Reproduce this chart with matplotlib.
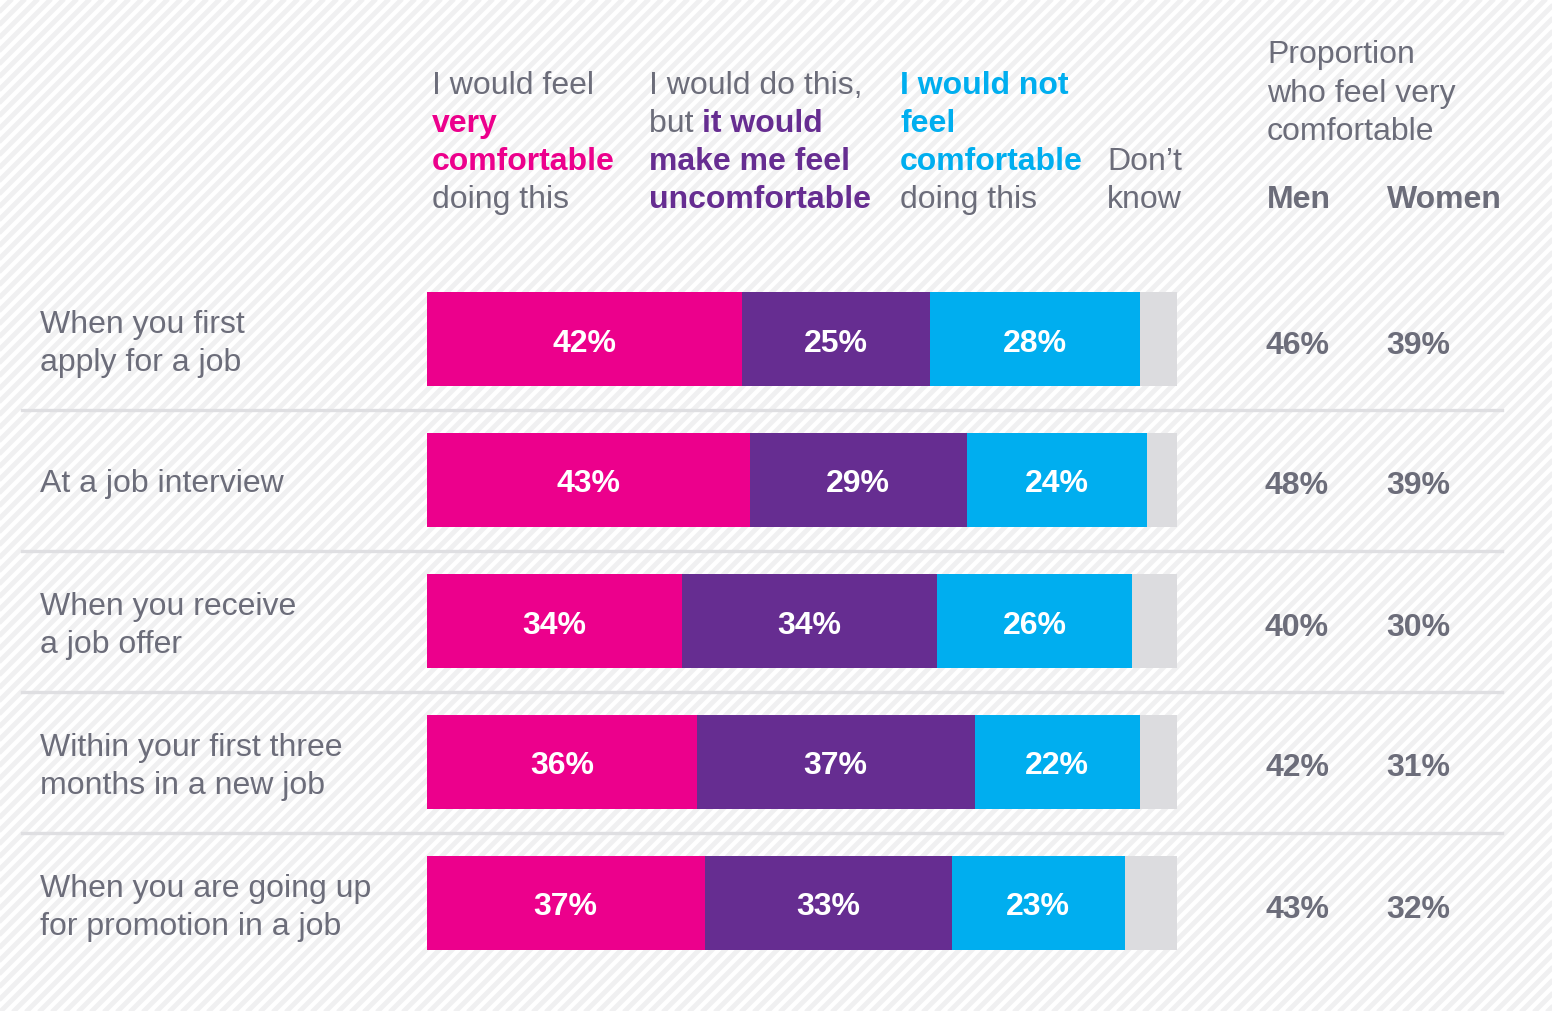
import matplotlib
matplotlib.use("Agg")
import matplotlib.pyplot as plt
import numpy as np
from matplotlib.collections import LineCollection
from matplotlib.transforms import blended_transform_factory

plt.rcParams['font.family'] = ['Liberation Sans', 'DejaVu Sans']

# survey data
situations = [
    "When you first\napply for a job",
    "At a job interview",
    "When you receive\na job offer",
    "Within your first three\nmonths in a new job",
    "When you are going up\nfor promotion in a job",
]
very_comfortable = [42, 43, 34, 36, 37]
uncomfortable = [25, 29, 34, 37, 33]
not_comfortable = [28, 24, 26, 22, 23]
dont_know = [5, 4, 6, 5, 7]
men = [46, 48, 40, 42, 43]
women = [39, 39, 30, 31, 32]

PINK = '#ec008c'
PURPLE = '#662d91'
CYAN = '#00aeef'
LIGHT = '#dcdcdf'
GREY = '#6c6d7a'
FS = 23

W, H = 1552, 1012
fig = plt.figure(figsize=(W / 100, H / 100), dpi=100)
fig.patch.set_facecolor('white')


def fx(x):
    return x / W


def fy(y):
    return 1 - y / H


# diagonal stripe background
bg = fig.add_axes([0, 0, 1, 1])
bg.set_xlim(0, W)
bg.set_ylim(H, 0)
bg.axis('off')
period = 13
segs = [[(c, H + 20), (c + H + 40, -20)] for c in np.arange(-H - 60, W + 20, period)]
bg.add_collection(LineCollection(segs, colors='#f0f0f1', linewidths=3.5))

# stacked bars
row_h = 141
top = 340 - row_h / 2
ax = fig.add_axes([fx(427), fy(top + 5 * row_h), fx(750), 5 * row_h / H])
ax.set_xlim(0, 100)
ax.set_ylim(4.5, -0.5)
ax.axis('off')

y = np.arange(len(situations))
left = np.zeros(len(y))
for vals, col in [(very_comfortable, PINK), (uncomfortable, PURPLE),
                  (not_comfortable, CYAN), (dont_know, LIGHT)]:
    vals = np.array(vals, dtype=float)
    ax.barh(y, vals, left=left, height=0.667, color=col, linewidth=0)
    if col != LIGHT:
        for yi, l, v in zip(y, left, vals):
            ax.text(l + v / 2, yi, f"{int(v)}%", color='white', fontsize=FS,
                    fontweight='bold', ha='center', va='center_baseline')
    left += vals

# row separators
tr = blended_transform_factory(fig.transFigure, ax.transData)
for yi in y[:-1]:
    ax.plot([fx(22), fx(1502)], [yi + 0.5, yi + 0.5], transform=tr,
            color='#dfdfe2', lw=2.4, clip_on=False)

# row labels
for yi, lab in zip(y, situations):
    cy = 339 + yi * row_h
    lines = lab.split("\n")
    if len(lines) == 1:
        bases = [cy + 12]
    else:
        bases = [cy - 6, cy + 32]
    for b, ln in zip(bases, lines):
        fig.text(fx(40), fy(b), ln, color=GREY, fontsize=FS, va='baseline')

# men / women columns
for yi, m, w in zip(y, men, women):
    cy = 339 + yi * row_h + 3
    fig.text(fx(1297), fy(cy), f"{m}%", color=GREY, fontsize=FS,
             fontweight='bold', ha='center', va='center_baseline')
    fig.text(fx(1418), fy(cy), f"{w}%", color=GREY, fontsize=FS,
             fontweight='bold', ha='center', va='center_baseline')

# column headers: each line is a list of (text, colour, weight) pieces
headers = [
    (432, [[("I would feel", GREY, 'normal')],
           [("very", PINK, 'bold')],
           [("comfortable", PINK, 'bold')],
           [("doing this", GREY, 'normal')]]),
    (649, [[("I would do this,", GREY, 'normal')],
           [("but ", GREY, 'normal'), ("it would", PURPLE, 'bold')],
           [("make me feel", PURPLE, 'bold')],
           [("uncomfortable", PURPLE, 'bold')]]),
    (900, [[("I would not", CYAN, 'bold')],
           [("feel", CYAN, 'bold')],
           [("comfortable", CYAN, 'bold')],
           [("doing this", GREY, 'normal')]]),
    (1107, [[],
            [],
            [("Don\u2019t", GREY, 'normal')],
            [("know", GREY, 'normal')]]),
]
baselines = [94, 132, 170, 208]
renderer = fig.canvas.get_renderer()
for x0, lines in headers:
    for b, pieces in zip(baselines, lines):
        x = x0
        for txt, col, wt in pieces:
            t = fig.text(fx(x), fy(b), txt, color=col, fontsize=FS,
                         fontweight=wt, va='baseline')
            x = t.get_window_extent(renderer).x1

for b, txt in zip([63, 102, 140], ["Proportion", "who feel very", "comfortable"]):
    fig.text(fx(1267), fy(b), txt, color=GREY, fontsize=FS, va='baseline')
fig.text(fx(1267), fy(208), "Men", color=GREY, fontsize=FS, fontweight='bold', va='baseline')
fig.text(fx(1387), fy(208), "Women", color=GREY, fontsize=FS, fontweight='bold', va='baseline')

fig.savefig("out.png", dpi=100, facecolor='white')
